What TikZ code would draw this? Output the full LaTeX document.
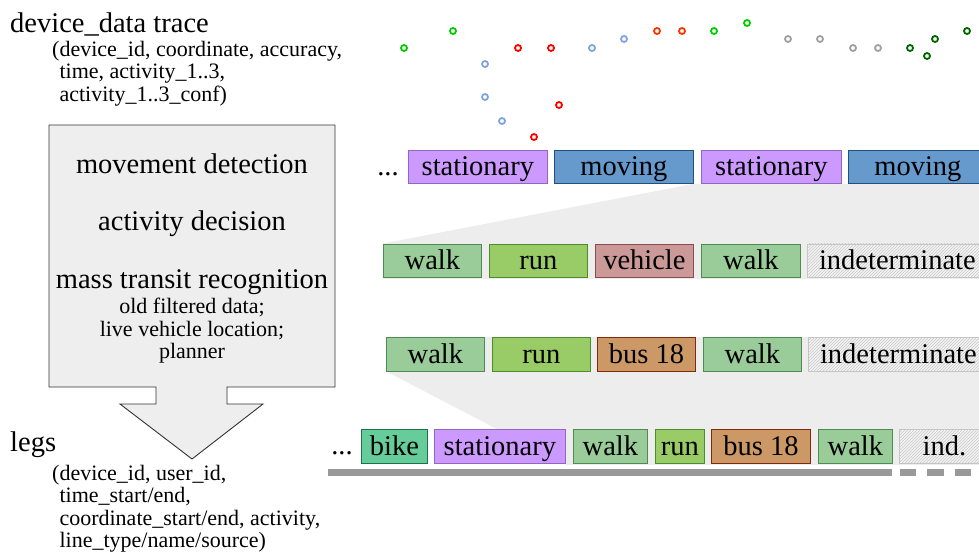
\documentclass[tikz,border=0pt]{standalone}
\usepackage{fontspec}
\setmainfont{Liberation Serif}
\usetikzlibrary{patterns}
\pgfdeclarelayer{background}
\pgfsetlayers{background,main}

% segment colours
\definecolor{statfill}{HTML}{CC99FF}
\definecolor{statdraw}{HTML}{9466C2}
\definecolor{movefill}{HTML}{6699CC}
\definecolor{movedraw}{HTML}{22507E}
\definecolor{walkfill}{HTML}{99CC99}
\definecolor{walkdraw}{HTML}{4F8A50}
\definecolor{runfill}{HTML}{99CC66}
\definecolor{rundraw}{HTML}{4D8C2A}
\definecolor{vehfill}{HTML}{CC9999}
\definecolor{vehdraw}{HTML}{8C4B4B}
\definecolor{busfill}{HTML}{CC9966}
\definecolor{busdraw}{HTML}{7F2A0A}
\definecolor{bikefill}{HTML}{66CC99}
\definecolor{bikedraw}{HTML}{1E7050}
\definecolor{indfill}{HTML}{F4F4F4}
\definecolor{inddraw}{HTML}{C4C4C4}
\definecolor{hatch}{HTML}{C8C8C8}
\definecolor{zoomgray}{HTML}{EDEDED}
\definecolor{procfill}{HTML}{EEEEEE}
\definecolor{procdraw}{HTML}{333333}
\definecolor{barcol}{HTML}{999999}
% trace point colours
\definecolor{ptgreen}{HTML}{00CC00}
\definecolor{ptblue}{HTML}{7EA6DC}
\definecolor{ptred}{HTML}{FF0000}
\definecolor{ptorange}{HTML}{FF3300}
\definecolor{ptgray}{HTML}{A0A0A0}
\definecolor{ptdkgreen}{HTML}{006600}

\newcommand\lblfont{\fontsize{28.5}{30}\selectfont}
\newcommand\notefont{\fontsize{22}{23}\selectfont}

\begin{document}
\begin{tikzpicture}[x=1pt,y=-1pt,
  seg/.style={draw, line width=0.8pt, anchor=north west, inner sep=0pt,
    minimum height=33.5pt, text height=22pt, text depth=4pt, font=\lblfont},
  stat/.style={seg, fill=statfill, draw=statdraw},
  move/.style={seg, fill=movefill, draw=movedraw},
  walk/.style={seg, fill=walkfill, draw=walkdraw},
  runb/.style={seg, fill=runfill, draw=rundraw},
  veh/.style={seg, fill=vehfill, draw=vehdraw},
  bus/.style={seg, fill=busfill, draw=busdraw},
  bike/.style={seg, fill=bikefill, draw=bikedraw},
  indet/.style={seg, fill=indfill, draw=inddraw,
    postaction={pattern=north east lines, pattern color=hatch}},
  ell/.style={anchor=north, inner sep=0pt, minimum height=33.5pt,
    text height=22pt, text depth=4pt, font=\lblfont},
  pt/.style={circle, draw=#1, line width=1.8pt, minimum size=6pt, inner sep=0pt},
  big/.style={anchor=base, inner sep=0pt, font=\lblfont},
  note/.style={anchor=base west, inner sep=0pt, font=\notefont},
  small/.style={anchor=base, inner sep=0pt, font=\notefont},
]
\useasboundingbox (0,0) rectangle (979,552);
\clip (0,0) rectangle (979,552);
\coordinate (edgeR) at (995,0);

% ---- left column: input, processing block, output ----
\node[big, anchor=base west] (trace) at (10,32) {device\_data trace};
\node[note] (tr1) at (52,56) {(device\_id, coordinate, accuracy,};
\node[note] (tr2) at (52,78.5) {\phantom{(}time, activity\_1..3,};
\node[note] (tr3) at (52,101) {\phantom{(}activity\_1..3\_conf)};

\draw[fill=procfill, draw=procdraw, line width=0.9pt]
  (49,125) -- (335,125) -- (335,387) -- (227,387) -- (227,404) -- (263,404)
  -- (192,459) coordinate (tip) -- (120,404) -- (156,404) -- (156,387)
  -- (49,387) -- cycle;
\node[big] (md) at (192,173) {movement detection};
\node[big] (ad) at (192,230) {activity decision};
\node[big] (mtr) at (192,288) {mass transit recognition};
\node[small] (src1) at (192,313) {old filtered data;};
\node[small] (src2) at (192,336) {live vehicle location;};
\node[small] (src3) at (192,358.5) {planner};

\node[big, anchor=base west] (legs) at (10,451) {legs};
\node[note] (lg1) at (52,480) {(device\_id, user\_id,};
\node[note] (lg2) at (52,502.5) {\phantom{(}time\_start/end,};
\node[note] (lg3) at (52,525) {\phantom{(}coordinate\_start/end, activity,};
\node[note] (lg4) at (52,547.5) {\phantom{(}line\_type/name/source)};

% ---- trace points ----
\node[pt=ptgreen]  (p1)  at (404,48) {};
\node[pt=ptgreen]  (p2)  at (453,31) {};
\node[pt=ptblue]   (p3)  at (485,64) {};
\node[pt=ptblue]   (p4)  at (485,97) {};
\node[pt=ptblue]   (p5)  at (502,121) {};
\node[pt=ptred]    (p6)  at (518,48) {};
\node[pt=ptred]    (p7)  at (551,48) {};
\node[pt=ptred]    (p8)  at (559,105) {};
\node[pt=ptred]    (p9)  at (534,137) {};
\node[pt=ptblue]   (p10) at (592,48) {};
\node[pt=ptblue]   (p11) at (624,39) {};
\node[pt=ptorange] (p12) at (657,31) {};
\node[pt=ptorange] (p13) at (682,31) {};
\node[pt=ptgreen]  (p14) at (714,31) {};
\node[pt=ptgreen]  (p15) at (747,23) {};
\node[pt=ptgray]   (p16) at (788,39) {};
\node[pt=ptgray]   (p17) at (820,39) {};
\node[pt=ptgray]   (p18) at (853,48) {};
\node[pt=ptgray]   (p19) at (878,48) {};
\node[pt=ptdkgreen] (p20) at (910,48) {};
\node[pt=ptdkgreen] (p21) at (927,56) {};
\node[pt=ptdkgreen] (p22) at (935,39) {};
\node[pt=ptdkgreen] (p23) at (967,31) {};

% ---- movement detection ----
\node[ell] (t0) at (388,149.5) {...};
\node[stat, minimum width=139pt] (t1) at (408,149.5) {stationary};
\node[move, minimum width=139pt] (t2) at (554,149.5) {moving};
\node[stat, minimum width=140pt] (t3) at (701,149.5) {stationary};
\node[move, minimum width=139pt] (t4) at (848,149.5) {moving};

% ---- activity decision ----
\node[walk,  minimum width=98pt]  (a1) at (383,243.5) {walk};
\node[runb,  minimum width=98pt]  (a2) at (489,243.5) {run};
\node[veh,   minimum width=98pt]  (a3) at (595,243.5) {vehicle};
\node[walk,  minimum width=99pt]  (a4) at (701,243.5) {walk};
\node[indet, minimum width=180pt] (a5) at (807,243.5) {indeterminate};

% ---- mass transit recognition ----
\node[walk,  minimum width=98pt]  (b1) at (386,337) {walk};
\node[runb,  minimum width=98pt]  (b2) at (492,337) {run};
\node[bus,   minimum width=98pt]  (b3) at (597,337) {bus 18};
\node[walk,  minimum width=98pt]  (b4) at (703,337) {walk};
\node[indet, minimum width=180pt] (b5) at (808,337) {indeterminate};

% ---- legs ----
\node[ell] (l0) at (342,429) {...};
\node[bike,  minimum width=66pt]  (l1) at (361,429) {bike};
\node[stat,  minimum width=131pt] (l2) at (434,429) {stationary};
\node[walk,  minimum width=74pt]  (l3) at (573,429) {walk};
\node[runb,  minimum width=49pt]  (l4) at (655,429) {run};
\node[bus,   minimum width=99pt]  (l5) at (711,429) {bus 18};
\node[walk,  minimum width=74pt]  (l6) at (818,429) {walk};
\node[indet, minimum width=90pt]  (l7) at (899,429) {ind.};

% time line under the legs
\fill[barcol] (328,469) rectangle (892,476);
\fill[barcol] (900,469) rectangle (916,476);
\fill[barcol] (927,469) rectangle (944,476);
\fill[barcol] (955,469) rectangle (971,476);

% ---- zoom-in areas between levels ----
\begin{pgfonlayer}{background}
  \fill[zoomgray] (t2.south east) -- (t2.south east -| edgeR)
    -- ([yshift=-1pt]a1.south west -| edgeR) -- ([yshift=-1pt]a1.south west)
    -- (a1.north west) -- cycle;
  \fill[zoomgray] (b1.north west) -- (b1.north west -| edgeR)
    -- ([yshift=-1.5pt]l2.south east -| edgeR) -- ([yshift=-1.5pt]l2.south east)
    -- (b1.south west) -- cycle;
\end{pgfonlayer}
\end{tikzpicture}
\end{document}
